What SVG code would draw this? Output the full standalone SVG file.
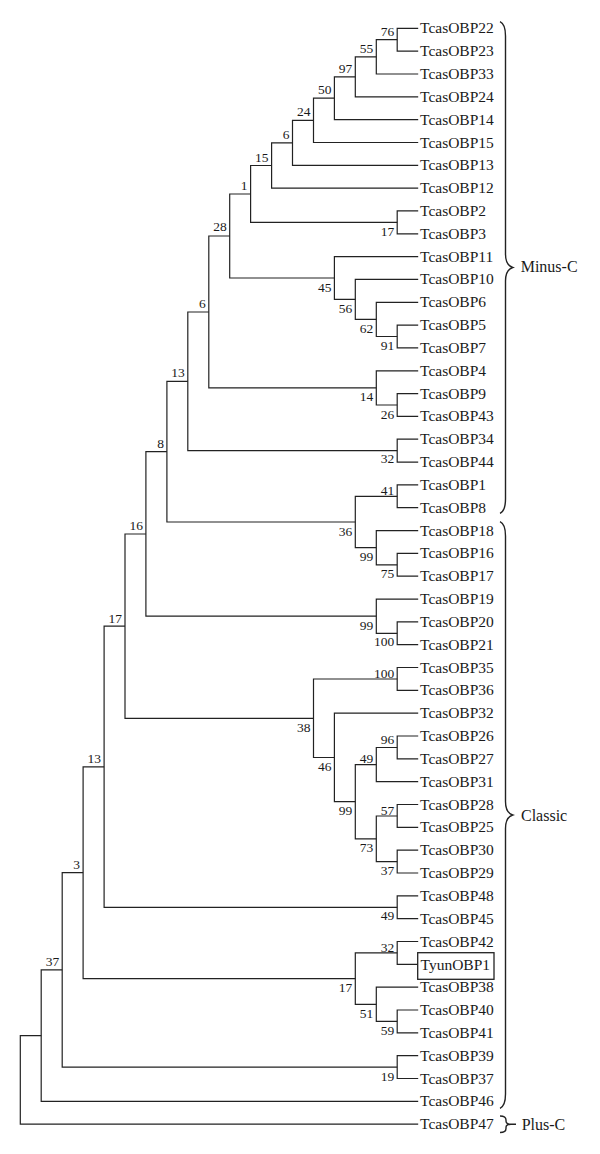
<svg xmlns="http://www.w3.org/2000/svg" width="600" height="1154" viewBox="0 0 600 1154">
<style>
.br{fill:none;stroke:#222;stroke-width:1.2}
.bc{fill:none;stroke:#222;stroke-width:1.4}
.lf{font-family:"Liberation Serif",serif;font-size:15.5px;fill:#1a1a1a}
.sv{font-family:"Liberation Serif",serif;font-size:13.5px;fill:#1a1a1a;text-anchor:end}
.gp{font-family:"Liberation Serif",serif;font-size:16px;fill:#1a1a1a}
</style>
<rect width="600" height="1154" fill="#fff"/>
<g id="connectors">
<path class="br" d="M418.2,28.3 H397.2 V51.1 H418.2"/>
<path class="br" d="M397.2,39.7 H376.3 V74.0 H418.2"/>
<path class="br" d="M376.3,56.8 H355.3 V96.8 H418.2"/>
<path class="br" d="M355.3,76.8 H334.4 V119.6 H418.2"/>
<path class="br" d="M334.4,98.2 H313.5 V142.5 H418.2"/>
<path class="br" d="M313.5,120.3 H292.5 V165.3 H418.2"/>
<path class="br" d="M292.5,142.8 H271.6 V188.1 H418.2"/>
<path class="br" d="M418.2,210.9 H397.2 V233.8 H418.2"/>
<path class="br" d="M271.6,165.5 H250.6 V222.4 H397.2"/>
<path class="br" d="M418.2,325.1 H397.2 V347.9 H418.2"/>
<path class="br" d="M418.2,302.3 H376.3 V336.5 H397.2"/>
<path class="br" d="M418.2,279.4 H355.3 V319.4 H376.3"/>
<path class="br" d="M418.2,256.6 H334.4 V299.4 H355.3"/>
<path class="br" d="M250.6,194.0 H229.7 V278.0 H334.4"/>
<path class="br" d="M418.2,393.6 H397.2 V416.4 H418.2"/>
<path class="br" d="M418.2,370.8 H376.3 V405.0 H397.2"/>
<path class="br" d="M229.7,236.0 H208.8 V387.9 H376.3"/>
<path class="br" d="M418.2,439.2 H397.2 V462.1 H418.2"/>
<path class="br" d="M208.8,312.0 H187.8 V450.7 H397.2"/>
<path class="br" d="M418.2,484.9 H397.2 V507.7 H418.2"/>
<path class="br" d="M418.2,553.4 H397.2 V576.2 H418.2"/>
<path class="br" d="M418.2,530.6 H376.3 V564.8 H397.2"/>
<path class="br" d="M397.2,496.3 H355.3 V547.7 H376.3"/>
<path class="br" d="M187.8,381.4 H166.9 V522.0 H355.3"/>
<path class="br" d="M418.2,621.9 H397.2 V644.7 H418.2"/>
<path class="br" d="M418.2,599.1 H376.3 V633.3 H397.2"/>
<path class="br" d="M166.9,451.7 H145.9 V616.2 H376.3"/>
<path class="br" d="M418.2,667.5 H397.2 V690.4 H418.2"/>
<path class="br" d="M418.2,736.0 H397.2 V758.9 H418.2"/>
<path class="br" d="M397.2,747.5 H376.3 V781.7 H418.2"/>
<path class="br" d="M418.2,804.5 H397.2 V827.4 H418.2"/>
<path class="br" d="M418.2,850.2 H397.2 V873.0 H418.2"/>
<path class="br" d="M397.2,816.0 H376.3 V861.6 H397.2"/>
<path class="br" d="M376.3,764.6 H355.3 V838.8 H376.3"/>
<path class="br" d="M418.2,713.2 H334.4 V801.7 H355.3"/>
<path class="br" d="M397.2,679.0 H313.5 V757.5 H334.4"/>
<path class="br" d="M145.9,534.0 H125.0 V718.3 H313.5"/>
<path class="br" d="M418.2,895.8 H397.2 V918.7 H418.2"/>
<path class="br" d="M125.0,626.2 H104.1 V907.3 H397.2"/>
<path class="br" d="M418.2,941.5 H397.2 V964.3 H417.7"/>
<path class="br" d="M418.2,1010.0 H397.2 V1032.8 H418.2"/>
<path class="br" d="M418.2,987.2 H376.3 V1021.4 H397.2"/>
<path class="br" d="M397.2,952.9 H355.3 V1004.3 H376.3"/>
<path class="br" d="M104.1,766.8 H83.1 V978.6 H355.3"/>
<path class="br" d="M418.2,1055.7 H397.2 V1078.5 H418.2"/>
<path class="br" d="M83.1,872.7 H62.2 V1067.1 H397.2"/>
<path class="br" d="M62.2,969.9 H41.2 V1101.3 H418.2"/>
<path class="br" d="M41.2,1035.6 H20.3 V1124.1 H418.2"/>
</g>
<g id="support-values">
<text class="sv" x="394.2" y="35.7">76</text>
<text class="sv" x="373.3" y="52.8">55</text>
<text class="sv" x="352.3" y="72.8">97</text>
<text class="sv" x="331.4" y="94.2">50</text>
<text class="sv" x="310.5" y="116.3">24</text>
<text class="sv" x="289.5" y="138.8">6</text>
<text class="sv" x="268.6" y="161.5">15</text>
<text class="sv" x="247.6" y="190.0">1</text>
<text class="sv" x="226.7" y="231.0">28</text>
<text class="sv" x="205.8" y="308.0">6</text>
<text class="sv" x="184.8" y="377.4">13</text>
<text class="sv" x="163.9" y="447.7">8</text>
<text class="sv" x="142.9" y="530.0">16</text>
<text class="sv" x="122.0" y="622.7">17</text>
<text class="sv" x="101.1" y="762.8">13</text>
<text class="sv" x="80.1" y="868.7">3</text>
<text class="sv" x="59.2" y="966.0">37</text>
<text class="sv" x="394.2" y="494.8">41</text>
<text class="sv" x="394.2" y="677.5">100</text>
<text class="sv" x="373.3" y="762.6">49</text>
<text class="sv" x="394.2" y="743.5">96</text>
<text class="sv" x="394.2" y="814.5">57</text>
<text class="sv" x="394.2" y="951.9">32</text>
<text class="sv" x="394.2" y="235.9">17</text>
<text class="sv" x="331.4" y="291.5">45</text>
<text class="sv" x="352.3" y="312.9">56</text>
<text class="sv" x="373.3" y="332.9">62</text>
<text class="sv" x="394.2" y="350.0">91</text>
<text class="sv" x="373.3" y="401.4">14</text>
<text class="sv" x="394.2" y="418.5">26</text>
<text class="sv" x="394.2" y="463.2">32</text>
<text class="sv" x="352.3" y="535.5">36</text>
<text class="sv" x="373.3" y="561.2">99</text>
<text class="sv" x="394.2" y="578.3">75</text>
<text class="sv" x="373.3" y="629.7">99</text>
<text class="sv" x="394.2" y="646.3">100</text>
<text class="sv" x="310.5" y="731.8">38</text>
<text class="sv" x="331.4" y="771.0">46</text>
<text class="sv" x="352.3" y="815.2">99</text>
<text class="sv" x="373.3" y="852.3">73</text>
<text class="sv" x="394.2" y="875.1">37</text>
<text class="sv" x="394.2" y="920.3">49</text>
<text class="sv" x="352.3" y="992.1">17</text>
<text class="sv" x="373.3" y="1017.8">51</text>
<text class="sv" x="394.2" y="1034.9">59</text>
<text class="sv" x="394.2" y="1080.6">19</text>
</g>
<g id="leaves">
<g id="TcasOBP22"><text class="lf" x="420" y="33.3">TcasOBP22</text></g>
<g id="TcasOBP23"><text class="lf" x="420" y="56.1">TcasOBP23</text></g>
<g id="TcasOBP33"><text class="lf" x="420" y="79.0">TcasOBP33</text></g>
<g id="TcasOBP24"><text class="lf" x="420" y="101.8">TcasOBP24</text></g>
<g id="TcasOBP14"><text class="lf" x="420" y="124.6">TcasOBP14</text></g>
<g id="TcasOBP15"><text class="lf" x="420" y="147.5">TcasOBP15</text></g>
<g id="TcasOBP13"><text class="lf" x="420" y="170.3">TcasOBP13</text></g>
<g id="TcasOBP12"><text class="lf" x="420" y="193.1">TcasOBP12</text></g>
<g id="TcasOBP2"><text class="lf" x="420" y="215.9">TcasOBP2</text></g>
<g id="TcasOBP3"><text class="lf" x="420" y="238.8">TcasOBP3</text></g>
<g id="TcasOBP11"><text class="lf" x="420" y="261.6">TcasOBP11</text></g>
<g id="TcasOBP10"><text class="lf" x="420" y="284.4">TcasOBP10</text></g>
<g id="TcasOBP6"><text class="lf" x="420" y="307.3">TcasOBP6</text></g>
<g id="TcasOBP5"><text class="lf" x="420" y="330.1">TcasOBP5</text></g>
<g id="TcasOBP7"><text class="lf" x="420" y="352.9">TcasOBP7</text></g>
<g id="TcasOBP4"><text class="lf" x="420" y="375.8">TcasOBP4</text></g>
<g id="TcasOBP9"><text class="lf" x="420" y="398.6">TcasOBP9</text></g>
<g id="TcasOBP43"><text class="lf" x="420" y="421.4">TcasOBP43</text></g>
<g id="TcasOBP34"><text class="lf" x="420" y="444.2">TcasOBP34</text></g>
<g id="TcasOBP44"><text class="lf" x="420" y="467.1">TcasOBP44</text></g>
<g id="TcasOBP1"><text class="lf" x="420" y="489.9">TcasOBP1</text></g>
<g id="TcasOBP8"><text class="lf" x="420" y="512.7">TcasOBP8</text></g>
<g id="TcasOBP18"><text class="lf" x="420" y="535.6">TcasOBP18</text></g>
<g id="TcasOBP16"><text class="lf" x="420" y="558.4">TcasOBP16</text></g>
<g id="TcasOBP17"><text class="lf" x="420" y="581.2">TcasOBP17</text></g>
<g id="TcasOBP19"><text class="lf" x="420" y="604.1">TcasOBP19</text></g>
<g id="TcasOBP20"><text class="lf" x="420" y="626.9">TcasOBP20</text></g>
<g id="TcasOBP21"><text class="lf" x="420" y="649.7">TcasOBP21</text></g>
<g id="TcasOBP35"><text class="lf" x="420" y="672.5">TcasOBP35</text></g>
<g id="TcasOBP36"><text class="lf" x="420" y="695.4">TcasOBP36</text></g>
<g id="TcasOBP32"><text class="lf" x="420" y="718.2">TcasOBP32</text></g>
<g id="TcasOBP26"><text class="lf" x="420" y="741.0">TcasOBP26</text></g>
<g id="TcasOBP27"><text class="lf" x="420" y="763.9">TcasOBP27</text></g>
<g id="TcasOBP31"><text class="lf" x="420" y="786.7">TcasOBP31</text></g>
<g id="TcasOBP28"><text class="lf" x="420" y="809.5">TcasOBP28</text></g>
<g id="TcasOBP25"><text class="lf" x="420" y="832.4">TcasOBP25</text></g>
<g id="TcasOBP30"><text class="lf" x="420" y="855.2">TcasOBP30</text></g>
<g id="TcasOBP29"><text class="lf" x="420" y="878.0">TcasOBP29</text></g>
<g id="TcasOBP48"><text class="lf" x="420" y="900.8">TcasOBP48</text></g>
<g id="TcasOBP45"><text class="lf" x="420" y="923.7">TcasOBP45</text></g>
<g id="TcasOBP42"><text class="lf" x="420" y="946.5">TcasOBP42</text></g>
<g id="TyunOBP1"><rect x="417.7" y="952.7" width="76.3" height="26.6" fill="none" stroke="#222" stroke-width="1.3"/><text class="lf" x="420.5" y="969.6">TyunOBP1</text></g>
<g id="TcasOBP38"><text class="lf" x="420" y="992.2">TcasOBP38</text></g>
<g id="TcasOBP40"><text class="lf" x="420" y="1015.0">TcasOBP40</text></g>
<g id="TcasOBP41"><text class="lf" x="420" y="1037.8">TcasOBP41</text></g>
<g id="TcasOBP39"><text class="lf" x="420" y="1060.7">TcasOBP39</text></g>
<g id="TcasOBP37"><text class="lf" x="420" y="1083.5">TcasOBP37</text></g>
<g id="TcasOBP46"><text class="lf" x="420" y="1106.3">TcasOBP46</text></g>
<g id="TcasOBP47"><text class="lf" x="420" y="1129.1">TcasOBP47</text></g>
</g>
<g id="group-minus-c">
<path class="bc" d="M500,21.7 C504,23.5 505.5,28 505.5,36 L505.5,254 C505.5,262 508,266 512.7,267.5 C508,269 505.5,273 505.5,281 L505.5,499 C505.5,507 504,511.5 500,513.3"/>
<text class="gp" x="520.7" y="272">Minus-C</text>
</g>
<g id="group-classic">
<path class="bc" d="M500,521.7 C504,523.5 505.5,528 505.5,536 L505.5,801.5 C505.5,809.5 508,813.5 512.7,815 C508,816.5 505.5,820.5 505.5,828.5 L505.5,1094 C505.5,1102 504,1106.5 500,1108.3"/>
<text class="gp" x="521" y="820.5">Classic</text>
</g>
<g id="group-plus-c">
<path class="bc" d="M500,1116 C504.5,1116 506,1117.5 506,1120 L506,1121 C506,1123 507.5,1124.2 511,1124.2 L516,1124.2 M511,1124.2 C507.5,1124.2 506,1125.5 506,1127.5 L506,1128.5 C506,1131 504.5,1132.5 500,1132.5"/>
<text class="gp" x="521.7" y="1129.8">Plus-C</text>
</g>
</svg>
